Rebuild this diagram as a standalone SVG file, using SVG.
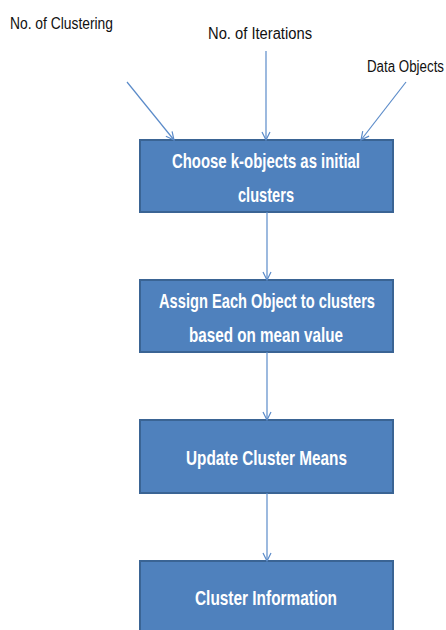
<svg xmlns="http://www.w3.org/2000/svg" width="446" height="630" viewBox="0 0 446 630">
  <style>
    .box { fill: #4F81BD; stroke: #3A6494; stroke-width: 2; }
    .lbl { font-family: "Liberation Sans", Arial, sans-serif; font-size: 16px; fill: #111; }
    .btxt { font-family: "Liberation Sans", Arial, sans-serif; font-weight: bold; font-size: 21px; fill: #fff; }
    .conn { stroke: #5B8BC9; stroke-width: 1.2; fill: none; marker-end: url(#vhead); }
  </style>
  <defs>
    <marker id="vhead" viewBox="0 0 10 10" refX="9" refY="5" markerWidth="10" markerHeight="10" markerUnits="userSpaceOnUse" orient="auto">
      <path d="M1,1 L9,5 L1,9" fill="none" stroke="#5B8BC9" stroke-width="1.2"/>
    </marker>
  </defs>

  <!-- input labels -->
  <g id="in-clustering">
    <text class="lbl" x="10" y="29" textLength="103" lengthAdjust="spacingAndGlyphs">No. of Clustering</text>
  </g>
  <g id="in-iterations">
    <text class="lbl" x="208" y="39" textLength="104" lengthAdjust="spacingAndGlyphs">No. of  Iterations</text>
  </g>
  <g id="in-data">
    <text class="lbl" x="367" y="72" textLength="77" lengthAdjust="spacingAndGlyphs">Data Objects</text>
  </g>

  <!-- process steps -->
  <g id="step-choose">
    <rect class="box" x="140" y="140" width="253" height="72"/>
    <text class="btxt" x="172" y="168" textLength="188" lengthAdjust="spacingAndGlyphs">Choose k-objects as initial</text>
    <text class="btxt" x="238" y="202" textLength="56" lengthAdjust="spacingAndGlyphs">clusters</text>
  </g>
  <g id="step-assign">
    <rect class="box" x="140" y="280" width="253" height="72"/>
    <text class="btxt" x="159" y="308" textLength="216" lengthAdjust="spacingAndGlyphs">Assign Each Object to clusters</text>
    <text class="btxt" x="189" y="342" textLength="154" lengthAdjust="spacingAndGlyphs">based on mean value</text>
  </g>
  <g id="step-update">
    <rect class="box" x="140" y="420" width="253" height="73"/>
    <text class="btxt" x="186" y="465" textLength="161" lengthAdjust="spacingAndGlyphs">Update Cluster Means</text>
  </g>
  <g id="step-info">
    <rect class="box" x="140" y="561" width="253" height="75"/>
    <text class="btxt" x="195" y="605" textLength="142" lengthAdjust="spacingAndGlyphs">Cluster Information</text>
  </g>

  <!-- connectors -->
  <g id="connectors">
    <line class="conn" x1="127" y1="82" x2="174" y2="140"/>
    <line class="conn" x1="266" y1="51" x2="266" y2="140"/>
    <line class="conn" x1="406" y1="82" x2="361" y2="140"/>
    <line class="conn" x1="267" y1="212" x2="267" y2="280"/>
    <line class="conn" x1="267" y1="352" x2="267" y2="420"/>
    <line class="conn" x1="267" y1="493" x2="267" y2="561"/>
  </g>
</svg>
